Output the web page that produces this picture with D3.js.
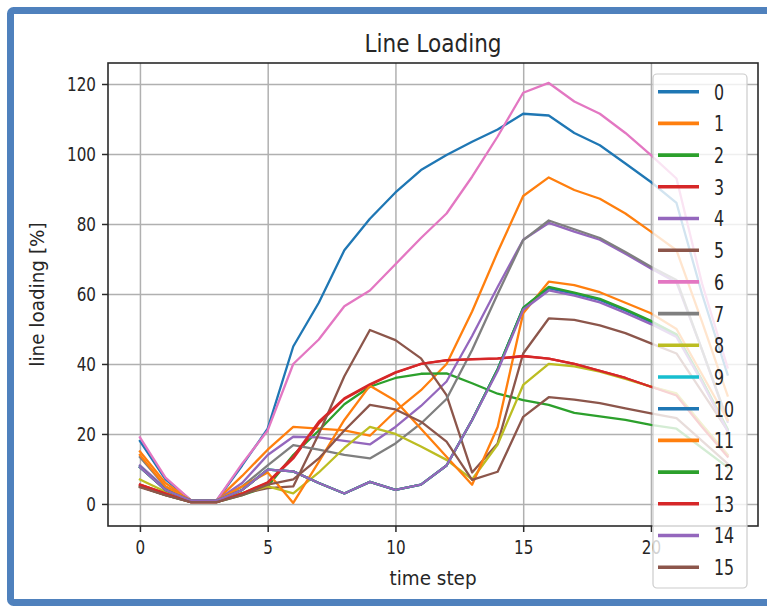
<!DOCTYPE html>
<html><head><meta charset="utf-8">
<script src="https://cdn.jsdelivr.net/npm/d3@7"></script>
<style>
body{margin:0;background:#fff}
svg{display:block}
text{font-family:"DejaVu Sans",sans-serif;fill:#262626}
</style>
</head><body>
<svg id="chart" width="767" height="608"></svg>
<script>
// ---------- data ----------
const timeSteps = [0,1,2,3,4,5,6,7,8,9,10,11,12,13,14,15,16,17,18,19,20,21,22,23];
const seriesNames = ["0","1","2","3","4","5","6","7","8","9","10","11","12","13","14","15"];
const colors = ["#1f77b4","#ff7f0e","#2ca02c","#d62728","#9467bd","#8c564b","#e377c2","#7f7f7f","#bcbd22","#17becf","#1f77b4","#ff7f0e","#2ca02c","#d62728","#9467bd","#8c564b"];
const s0  = [18,7,1,1,11,21.5,45,57.5,72.5,81.5,89,95.4,99.7,103.5,107,111.5,111,106,102.5,97.3,92,86,60,37];
const s1  = [15,6,1,1,8,15.5,22,21.5,21,19.5,26.5,32.5,40,55,72,88,93.3,89.7,87.2,83,77.8,72.5,52,31];
const s2  = [5,2.5,0.5,0.5,2.5,5,14,21,28.5,33.5,36,37.2,37.3,34.5,31.5,29.7,28.3,26,25,24,22.6,21.5,16,10.5];
const s3  = [5.5,3,0.5,0.5,3,6,13,23,30,34,37.5,40,41.1,41.4,41.6,42.3,41.5,40,38,36,33.5,31.3,22.5,14];
const s4  = [11,4.5,1,1,6,14,19.2,19,18,17,22,28,35,48,62,75.5,80.3,77.8,75.5,71.5,67.3,63.3,44,23.5];
const s5  = [5,2.5,0.5,0.5,3,4.5,5,20,36.5,49.7,46.8,41.6,31.1,9,17.3,43,53,52.6,51,48.8,45.9,43,32,21];
const s6  = [19,7.5,1,1,11.5,21,40,47,56.5,61,68.5,76,83,93.5,105,117.5,120.3,115,111.5,106,99.7,93,63,39];
const s7  = [13.4,5,1,1,5,11,16.8,15.5,14,13,17.3,23,30,44,60,75.4,81,78.5,76,72,67.8,64,44,24];
const s8  = [7,3.5,1,1,3,5,3,9,16,22,20,16.4,12.6,7,17,34,40,39.3,37.8,35.7,33.5,31.6,22.7,14];
const s9  = [10.5,4,1,1,4,9.8,9.3,6,3,6.3,4,5.5,11,24,38.5,56,61.8,60.2,58.4,55.4,52.1,48.3,35.2,21.2];
const s10 = [10.5,4,1,1,4,9.8,9.3,6,3,6.3,4,5.5,11,24,38.5,56,61.6,60.1,58.3,55.3,52,48.2,35.1,21.1];
const s11 = [14,5,1,1,5,9,0.3,12,24,33.8,29.5,21.5,13.5,5.5,22,54.5,63.5,62.5,60.5,57.5,54.5,50,37,24];
const s12 = [10.5,4,1,1,4,9.8,9.3,6,3,6.3,4,5.5,11,24,38.5,56,62,60.4,58.6,55.6,52.3,48.5,35.4,21.4];
const s13 = [5.5,3,0.5,0.5,3,6.2,13.5,23.5,30.2,34.2,37.6,40,41,41.3,41.5,42.2,41.5,40,38,36,33.5,31,22,13.5];
const s14 = [10.5,4,1,1,4,9.8,9.3,6,3,6.3,4,5.5,11,24,38,55.5,61,59.5,57.6,54.6,51.4,47.7,34.8,20.8];
const s15 = [4.8,2.5,0.5,0.5,2.5,5.5,7,13,21,28.3,27,23.5,17.8,6.9,9.2,24.9,30.5,29.8,28.8,27.3,25.9,24.5,18,11.5];
const allSeries = [s0,s1,s2,s3,s4,s5,s6,s7,s8,s9,s10,s11,s12,s13,s14,s15];
const xTicks = [0,5,10,15,20];
const yTicks = [0,20,40,60,80,100,120];
const titleText = "Line Loading";
const xLabel = "time step";
const yLabel = "line loading [%]";

// ---------- layout ----------
const svg = d3.select("#chart");
const L = 108, R = 758, T = 63, B = 526;
const x = d3.scaleLinear().domain([-1.25, 24.19]).range([L, R]);
const y = d3.scaleLinear().domain([-6.3, 126]).range([B, T]);
const TICK_SX = 0.76, LEG_SX = 0.72;

// outer blue frame
svg.append("rect").attr("x",10.5).attr("y",10.5).attr("width",800).attr("height",592)
  .attr("rx",3).attr("fill","#fff").attr("stroke","#4f81bd").attr("stroke-width",7);

// grid
const grid = svg.append("g");
grid.append("g").attr("transform",`translate(0,${B})`)
  .call(d3.axisBottom(x).tickValues(xTicks).tickSize(-(B-T)).tickFormat(""))
  .call(g=>{g.select(".domain").remove(); g.selectAll("line").attr("stroke","#b0b0b0").attr("stroke-width",1.5);});
grid.append("g").attr("transform",`translate(${L},0)`)
  .call(d3.axisLeft(y).tickValues(yTicks).tickSize(-(R-L)).tickFormat(""))
  .call(g=>{g.select(".domain").remove(); g.selectAll("line").attr("stroke","#b0b0b0").attr("stroke-width",1.5);});

// lines
svg.append("clipPath").attr("id","clip").append("rect").attr("x",L).attr("y",T).attr("width",R-L).attr("height",B-T);
const line = d3.line().x((d,i)=>x(timeSteps[i])).y(d=>y(d));
const lg = svg.append("g").attr("clip-path","url(#clip)");
allSeries.forEach((s,k)=>{
  lg.append("path").attr("d",line(s)).attr("fill","none").attr("stroke",colors[k])
    .attr("stroke-width",2.3).attr("stroke-linejoin","round").attr("stroke-linecap","square");
});

// spines
svg.append("rect").attr("x",L).attr("y",T).attr("width",R-L).attr("height",B-T)
  .attr("fill","none").attr("stroke","#2a2a2a").attr("stroke-width",1.6);

// axes ticks
const xa = svg.append("g").attr("transform",`translate(0,${B})`)
  .call(d3.axisBottom(x).tickValues(xTicks).tickSize(6).tickPadding(6));
xa.select(".domain").remove();
xa.selectAll("line").attr("stroke","#2a2a2a").attr("stroke-width",1.5);
xa.selectAll("text").attr("font-size",20).attr("fill","#262626").attr("font-family","DejaVu Sans")
  .attr("transform",`scale(${TICK_SX},1)`).attr("y",28).attr("dy",null);

const ya = svg.append("g").attr("transform",`translate(${L},0)`)
  .call(d3.axisLeft(y).tickValues(yTicks).tickSize(6).tickPadding(6));
ya.select(".domain").remove();
ya.selectAll("line").attr("stroke","#2a2a2a").attr("stroke-width",1.5);
ya.selectAll("text").attr("font-size",20).attr("fill","#262626").attr("font-family","DejaVu Sans")
  .attr("transform",`scale(${TICK_SX},1)`).attr("x",-12/TICK_SX).attr("dy","0.35em");

// title & labels
svg.append("text").attr("transform",`translate(${(L+R)/2},52) scale(0.9,1)`).attr("text-anchor","middle")
  .attr("font-size",24).text(titleText);
svg.append("text").attr("transform",`translate(${(L+R)/2},585) scale(0.92,1)`).attr("text-anchor","middle")
  .attr("font-size",20).text(xLabel);
svg.append("text").attr("transform",`translate(44,${(T+B)/2}) rotate(-90) scale(0.92,1)`).attr("text-anchor","middle")
  .attr("font-size",20).text(yLabel);

// legend
const leg = svg.append("g");
leg.append("rect").attr("x",653).attr("y",74).attr("width",94).attr("height",514).attr("rx",4)
  .attr("fill","#fff").attr("fill-opacity",0.8).attr("stroke","#cccccc").attr("stroke-width",1.2);
seriesNames.forEach((n,i)=>{
  const yy = 91.7 + i*31.7;
  leg.append("line").attr("x1",658).attr("x2",699).attr("y1",yy).attr("y2",yy)
    .attr("stroke",colors[i]).attr("stroke-width",3.6);
  leg.append("text").attr("transform",`translate(714,${yy}) scale(${LEG_SX},1)`)
    .attr("dy","0.36em").attr("font-size",22).text(n);
});
</script>
</body></html>
